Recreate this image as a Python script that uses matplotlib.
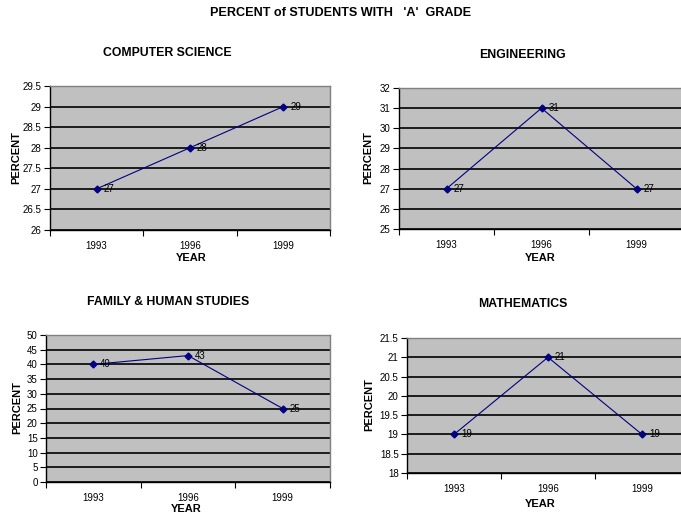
import matplotlib
matplotlib.use("Agg")
import matplotlib.pyplot as plt
from matplotlib.ticker import MultipleLocator, FormatStrFormatter, FixedLocator

plt.rcParams['font.family'] = ['Liberation Sans', 'DejaVu Sans']

years = ["1993", "1996", "1999"]

cs_values = [27, 28, 29]
eng_values = [27, 31, 27]
fam_values = [40, 43, 25]
math_values = [19, 21, 19]

panels = [
    # title, values, ylim, step, axes rect, tick format
    ("COMPUTER SCIENCE", cs_values, (26, 29.5), 0.5,
     [50 / 681, 1 - 230 / 519, 280 / 681, 144 / 519], "%g"),
    ("ENGINEERING", eng_values, (25, 32), 1,
     [399 / 681, 1 - 229 / 519, 285 / 681, 141 / 519], "%g"),
    ("FAMILY & HUMAN STUDIES", fam_values, (0, 50), 5,
     [46 / 681, 1 - 482 / 519, 284 / 681, 147 / 519], "%g"),
    ("MATHEMATICS", math_values, (18, 21.5), 0.5,
     [407 / 681, 1 - 473 / 519, 282 / 681, 135 / 519], "%g"),
]

fig = plt.figure(figsize=(6.81, 5.19), dpi=100)
fig.patch.set_facecolor("white")

fig.text(341 / 681, 1 - 13 / 519, "PERCENT of STUDENTS WITH   'A'  GRADE",
         ha="center", va="center", fontsize=9.1, fontweight="bold")

title_pos = [(167, 53), (522, 55), (168, 302), (523, 304)]
year_pos = [(191, 258), (540, 258), (186, 509), (540, 504)]
pct_pos = [(16, 158), (368, 158), (17, 408), (369, 405)]

for (title, vals, ylim, step, rect, fmt), tp, yp, pp in zip(panels, title_pos, year_pos, pct_pos):
    ax = fig.add_axes(rect)
    ax.set_facecolor("#C0C0C0")
    x = list(range(len(years)))
    ax.set_xlim(-0.5, len(years) - 0.5)
    ax.set_ylim(*ylim)
    ax.yaxis.set_major_locator(MultipleLocator(step))
    ax.yaxis.set_major_formatter(FormatStrFormatter(fmt))
    ax.grid(axis="y", color="black", linewidth=1.2)
    ax.set_axisbelow(True)

    # category ticks between categories, labels centred on categories
    ax.xaxis.set_major_locator(FixedLocator([i - 0.5 for i in range(len(years) + 1)]))
    ax.set_xticklabels([])
    ax.set_xticks(x, minor=True)
    ax.set_xticklabels(years, minor=True)
    ax.tick_params(axis="x", which="minor", length=0, labelsize=7, pad=8)
    ax.tick_params(axis="x", which="major", length=4, width=0.8, direction="out")
    ax.tick_params(axis="y", length=4, width=0.8, direction="out", labelsize=7, pad=2)

    for side in ("left", "bottom"):
        ax.spines[side].set_color("black")
        ax.spines[side].set_linewidth(1.0)
    for side in ("top", "right"):
        ax.spines[side].set_color("#808080")
        ax.spines[side].set_linewidth(1.0)

    ax.plot(x, vals, color="#000080", linewidth=0.8, marker="D", markersize=3.5,
            markerfacecolor="#000080", markeredgecolor="#000080", clip_on=False, zorder=3)
    for xi, v in zip(x, vals):
        ax.annotate(f"{v:g}", (xi, v), xytext=(5, 0), textcoords="offset points",
                    ha="left", va="center", fontsize=7, zorder=4)

    fig.text(tp[0] / 681, 1 - tp[1] / 519, title, ha="center", va="center",
             fontsize=8.8, fontweight="bold")
    fig.text(yp[0] / 681, 1 - yp[1] / 519, "YEAR", ha="center", va="center",
             fontsize=8, fontweight="bold")
    fig.text(pp[0] / 681, 1 - pp[1] / 519, "PERCENT", ha="center", va="center",
             fontsize=8, fontweight="bold", rotation=90)

fig.savefig("out.png", dpi=100, facecolor="white")
